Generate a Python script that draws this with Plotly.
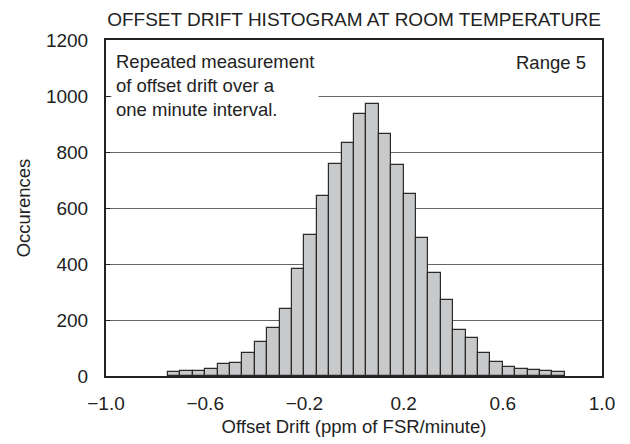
import plotly.graph_objects as go

# Histogram bin centers (ppm of FSR/minute), bin width 0.05
bin_centers = [-0.725, -0.675, -0.625, -0.575, -0.525, -0.475, -0.425, -0.375,
               -0.325, -0.275, -0.225, -0.175, -0.125, -0.075, -0.025, 0.025,
               0.075, 0.125, 0.175, 0.225, 0.275, 0.325, 0.375, 0.425,
               0.475, 0.525, 0.575, 0.625, 0.675, 0.725, 0.775, 0.825]
counts = [13, 18, 17, 24, 42, 48, 82, 120, 170, 238, 383, 502, 644, 757, 833, 936,
          970, 865, 754, 650, 494, 367, 270, 163, 136, 82, 49, 31, 26, 21, 18, 13]
bin_width = 0.05

x_ticks = [-1.0, -0.6, -0.2, 0.2, 0.6, 1.0]
x_tick_labels = ["\u22121.0", "\u22120.6", "\u22120.2", "0.2", "0.6", "1.0"]
y_ticks = [0, 200, 400, 600, 800, 1000, 1200]

title_text = "OFFSET DRIFT HISTOGRAM AT ROOM TEMPERATURE"
note_text = "Repeated measurement<br>of offset drift over a<br>one minute interval."
range_text = "Range 5"

FONT = "Liberation Sans, Arial, sans-serif"
TXT = "#222222"

fig = go.Figure()
fig.add_trace(go.Bar(
    x=bin_centers, y=counts, width=[bin_width] * len(bin_centers),
    marker=dict(color="#c8c9cb", line=dict(color="#2a2a2a", width=1.2)),
    hoverinfo="x+y", showlegend=False,
))

fig.update_layout(
    width=622, height=436,
    margin=dict(l=98, r=28, t=32, b=68),
    paper_bgcolor="white", plot_bgcolor="white",
    font=dict(family=FONT, size=18, color=TXT),
    bargap=0,
    title=dict(text=title_text, x=0.5, xref="paper", xanchor="center",
               y=0.975, yref="container", yanchor="middle",
               font=dict(family=FONT, size=19, color=TXT)),
    xaxis=dict(range=[-1.0, 1.0], tickmode="array", tickvals=x_ticks,
               ticktext=x_tick_labels, showgrid=False, zeroline=False,
               showline=True, mirror=True, linecolor="#222222", linewidth=2,
               ticks="", tickfont=dict(size=19), ticklabelstandoff=9,
               automargin=False,
               title=dict(text="Offset Drift (ppm of FSR/minute)",
                          font=dict(size=18.5), standoff=7)),
    yaxis=dict(range=[0, 1200], tickmode="array", tickvals=y_ticks,
               showgrid=True, gridcolor="#666666", gridwidth=1, zeroline=False,
               showline=True, mirror=True, linecolor="#222222", linewidth=2,
               ticks="inside", ticklen=4, tickcolor="#222222",
               tickfont=dict(size=19), ticklabelstandoff=12,
               automargin=False,
               title=dict(text="Occurences", font=dict(size=18.5), standoff=10)),
    annotations=[
        dict(text=note_text, xref="paper", yref="paper", x=0.01, y=0.983,
             xanchor="left", yanchor="top", align="left", showarrow=False,
             bgcolor="white", borderpad=4,
             font=dict(family=FONT, size=18.5, color=TXT)),
        dict(text=range_text, xref="paper", yref="paper", x=0.972, y=0.934,
             xanchor="right", yanchor="middle", align="right", showarrow=False,
             font=dict(family=FONT, size=18.5, color=TXT)),
    ],
)

fig.write_html("out.html")
